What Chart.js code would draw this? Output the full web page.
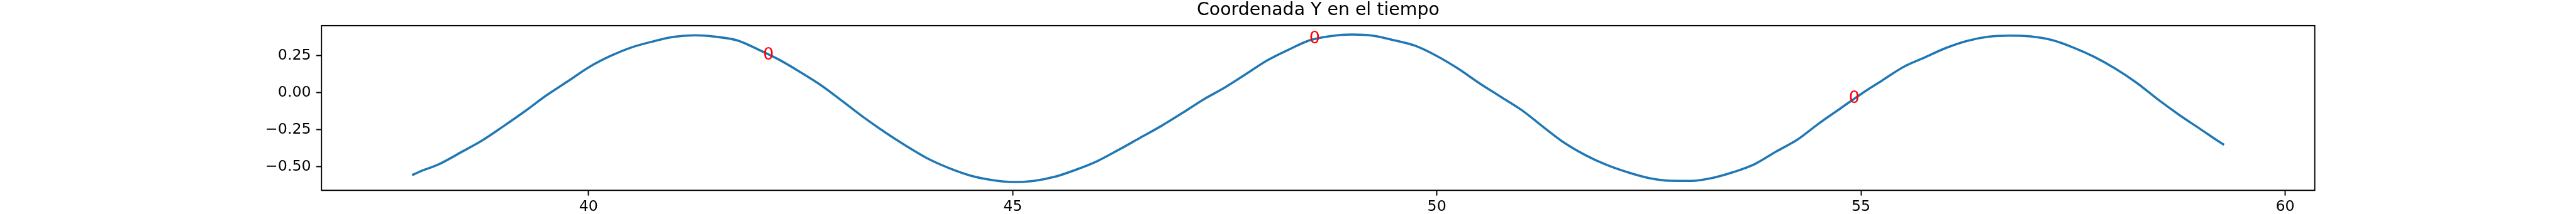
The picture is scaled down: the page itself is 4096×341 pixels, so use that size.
<!DOCTYPE html>
<html>
<head>
<meta charset="utf-8">
<title>Coordenada Y en el tiempo</title>
<script src="https://cdn.jsdelivr.net/npm/chart.js@4.4.0/dist/chart.umd.min.js"></script>
<style>
  html, body { margin: 0; padding: 0; background: #fff; }
  canvas { display: block; }
</style>
</head>
<body>
<canvas id="myChart" width="4096" height="341"></canvas>
<script>
// valores
let tiempo = [
    37.92, 38.0, 38.25, 38.5, 38.75, 39.0, 39.25, 39.5, 39.75,
    40.0, 40.25, 40.5, 40.75, 41.0, 41.25, 41.5, 41.75,
    42.0, 42.25, 42.5, 42.75, 43.0, 43.25, 43.5, 43.75,
    44.0, 44.25, 44.5, 44.75, 45.0, 45.25, 45.5, 45.75,
    46.0, 46.25, 46.5, 46.75, 47.0, 47.25, 47.5, 47.75,
    48.0, 48.25, 48.5, 48.75, 49.0, 49.25, 49.5, 49.75,
    50.0, 50.25, 50.5, 50.75, 51.0, 51.25, 51.5, 51.75,
    52.0, 52.25, 52.5, 52.75, 53.0, 53.25, 53.5, 53.75,
    54.0, 54.25, 54.5, 54.75, 55.0, 55.25, 55.5, 55.75,
    56.0, 56.25, 56.5, 56.75, 57.0, 57.25, 57.5, 57.75,
    58.0, 58.25, 58.5, 58.75, 59.0, 59.25, 59.28
];
let coordY = [
    -0.558, -0.536, -0.480, -0.402, -0.322, -0.226, -0.126, -0.020, 0.074,
    0.170, 0.245, 0.304, 0.344, 0.376, 0.387, 0.377, 0.353,
    0.291, 0.221, 0.137, 0.046, -0.061, -0.170, -0.270, -0.362,
    -0.446, -0.510, -0.560, -0.590, -0.604, -0.596, -0.568, -0.520,
    -0.462, -0.386, -0.306, -0.226, -0.138, -0.046, 0.034, 0.125,
    0.217, 0.289, 0.353, 0.382, 0.392, 0.384, 0.353, 0.315,
    0.247, 0.162, 0.064, -0.027, -0.118, -0.230, -0.338, -0.422,
    -0.488, -0.538, -0.577, -0.595, -0.596, -0.576, -0.536, -0.482,
    -0.398, -0.318, -0.210, -0.110, -0.010, 0.082, 0.173, 0.237,
    0.301, 0.349, 0.377, 0.385, 0.379, 0.355, 0.305, 0.241,
    0.161, 0.066, -0.046, -0.150, -0.246, -0.342, -0.352
];

// marcas rojas "0"
let marcaX = [42.12, 48.56, 54.92];
let marcaY = [0.254, 0.363, -0.042];

let xTicks = [40, 45, 50, 55, 60];
let yTicks = [-0.5, -0.25, 0, 0.25];

let titulo = 'Coordenada Y en el tiempo';

Chart.defaults.font.family = "'DejaVu Sans'";
Chart.defaults.color = '#000';

// marco negro alrededor del area de trazado
let marco = {
    id: 'marco',
    afterDatasetsDraw: function (chart) {
        let a = chart.chartArea;
        let ctx = chart.ctx;
        ctx.save();
        ctx.strokeStyle = '#000';
        ctx.lineWidth = 1.9;
        ctx.strokeRect(a.left, a.top, a.right - a.left, a.bottom - a.top);
        ctx.restore();
    }
};

// dibuja el texto "0" en cada punto marcado
let ceros = {
    id: 'ceros',
    afterDatasetsDraw: function (chart) {
        let meta = chart.getDatasetMeta(1);
        let ctx = chart.ctx;
        ctx.save();
        ctx.fillStyle = 'red';
        ctx.font = "27px 'DejaVu Sans'";
        ctx.textAlign = 'center';
        ctx.textBaseline = 'middle';
        meta.data.forEach((pt) => {
            ctx.fillText('0', pt.x, pt.y);
        });
        ctx.restore();
    }
};

let ctx = document.getElementById('myChart').getContext('2d');

let chart = new Chart(ctx, {
    type: 'line',
    data: {
        datasets: [{
            data: tiempo.map((t, i) => ({ x: t, y: coordY[i] })),
            borderColor: '#1f77b4',
            borderWidth: 3.55,
            pointRadius: 0,
            cubicInterpolationMode: 'monotone',
            fill: false
        }, {
            data: marcaX.map((t, i) => ({ x: t, y: marcaY[i] })),
            showLine: false,
            pointRadius: 0,
            borderColor: 'red'
        }]
    },
    options: {
        responsive: false,
        animation: false,
        events: [],
        layout: {
            padding: { left: 0, right: 415.4, top: 0, bottom: 0 }
        },
        plugins: {
            legend: { display: false },
            tooltip: { enabled: false },
            title: {
                display: true,
                text: titulo,
                fullSize: false,
                color: '#000',
                font: { size: 28.4, weight: 'normal', lineHeight: 1.14 },
                padding: { top: 0, bottom: 8.5 }
            }
        },
        scales: {
            x: {
                type: 'linear',
                position: 'bottom',
                min: 36.852,
                max: 60.349,
                afterBuildTicks: function (scale) {
                    scale.ticks = xTicks.map(v => ({ value: v }));
                },
                afterFit: function (scale) {
                    scale.height = 37.7;
                },
                grid: {
                    display: true,
                    drawOnChartArea: false,
                    drawTicks: true,
                    tickLength: 8.3,
                    tickWidth: 1.9,
                    tickColor: '#000'
                },
                border: { display: false },
                ticks: {
                    padding: 3.7,
                    maxRotation: 0,
                    autoSkip: false,
                    font: { size: 23.7 },
                    callback: function (value) {
                        return String(value);
                    }
                }
            },
            y: {
                type: 'linear',
                position: 'left',
                min: -0.66,
                max: 0.452,
                afterBuildTicks: function (scale) {
                    scale.ticks = yTicks.map(v => ({ value: v }));
                },
                afterFit: function (scale) {
                    scale.width = 511.2;
                },
                grid: {
                    display: true,
                    drawOnChartArea: false,
                    drawTicks: true,
                    tickLength: 8.3,
                    tickWidth: 1.9,
                    tickColor: '#000'
                },
                border: { display: false },
                ticks: {
                    padding: 8.3,
                    autoSkip: false,
                    font: { size: 23.7 },
                    callback: function (value) {
                        return value.toFixed(2).replace('-', '\u2212');
                    }
                }
            }
        }
    },
    plugins: [marco, ceros]
});
</script>
</body>
</html>
